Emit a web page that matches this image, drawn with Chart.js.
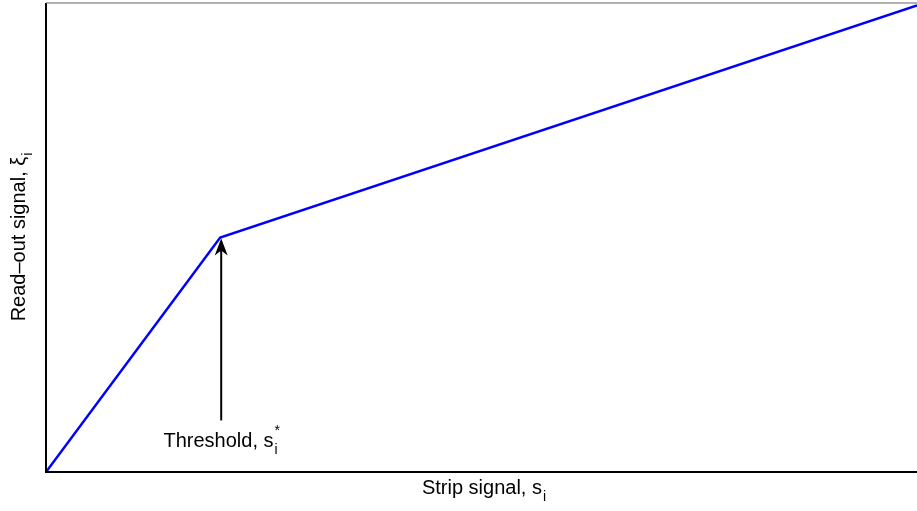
<!DOCTYPE html>
<html>
<head>
<meta charset="utf-8">
<script src="https://cdn.jsdelivr.net/npm/chart.js@4.4.1/dist/chart.umd.min.js"></script>
<style>
  html, body { margin: 0; padding: 0; background: #ffffff; }
  #wrap { width: 917px; height: 511px; position: relative; }
</style>
</head>
<body>
<div id="wrap"><canvas id="c" width="917" height="511"></canvas></div>
<script>
// Piecewise-linear response: strip signal -> read-out signal
const stripSignal = [0, 2, 10];
const readoutSignal = [0, 5, 9.95];

// Threshold marker (x of the knee) and where the arrow tail starts
const thresholdX = 2;
const thresholdY = 5;
const arrowTailY = 1.1;

const xRange = [0, 10];
const yRange = [0, 10];

const FONT = '"Liberation Sans", Arial, Helvetica, sans-serif';
const FS = 20;
const SUB = Math.round(FS * 0.7);

const points = stripSignal.map((x, i) => ({ x: x, y: readoutSignal[i] }));

// Draw a run of text pieces, some of them sub/superscripts, left to right
function measureRich(ctx, parts) {
  let w = 0;
  for (const p of parts) {
    if (p.stack) {
      ctx.font = `${SUB}px ${FONT}`;
      w += Math.max(ctx.measureText(p.sub).width, ctx.measureText(p.sup).width);
    } else {
      ctx.font = `${p.sub ? SUB : FS}px ${FONT}`;
      w += ctx.measureText(p.t).width;
    }
  }
  return w;
}
function drawRich(ctx, parts, cx, baseline) {
  const total = measureRich(ctx, parts);
  let x = cx - total / 2;
  ctx.textAlign = 'left';
  ctx.textBaseline = 'alphabetic';
  ctx.fillStyle = '#000';
  for (const p of parts) {
    if (p.stack) {
      ctx.font = `${SUB}px ${FONT}`;
      ctx.fillText(p.sub, x + 1, baseline + 7);
      ctx.fillText(p.sup, x + 1, baseline - 12);
      x += Math.max(ctx.measureText(p.sub).width, ctx.measureText(p.sup).width);
    } else if (p.sub) {
      ctx.font = `${SUB}px ${FONT}`;
      ctx.fillText(p.t, x + 1, baseline + 7);
      x += ctx.measureText(p.t).width;
    } else {
      ctx.font = `${FS}px ${FONT}`;
      ctx.fillText(p.t, x, baseline);
      x += ctx.measureText(p.t).width;
    }
  }
}

const decorations = {
  id: 'decorations',
  afterDatasetsDraw(chart) {
    const ctx = chart.ctx;
    const a = chart.chartArea;
    const xs = chart.scales.x, ys = chart.scales.y;
    ctx.save();

    // axes box: left and bottom solid, top thin
    ctx.strokeStyle = '#000';
    ctx.lineWidth = 2;
    ctx.beginPath();
    ctx.moveTo(a.left, a.top);
    ctx.lineTo(a.left, a.bottom);
    ctx.lineTo(a.right + 2, a.bottom);
    ctx.stroke();
    ctx.strokeStyle = '#666';
    ctx.lineWidth = 1.2;
    ctx.beginPath();
    ctx.moveTo(a.left, a.top);
    ctx.lineTo(a.right + 2, a.top);
    ctx.stroke();

    // arrow pointing at the knee
    const ax = xs.getPixelForValue(thresholdX) + 1;
    const ayTip = ys.getPixelForValue(thresholdY) + 1;
    const ayTail = ys.getPixelForValue(arrowTailY);
    ctx.strokeStyle = '#000';
    ctx.lineWidth = 2;
    ctx.beginPath();
    ctx.moveTo(ax, ayTail);
    ctx.lineTo(ax, ayTip + 10);
    ctx.stroke();
    ctx.fillStyle = '#000';
    ctx.beginPath();
    ctx.moveTo(ax, ayTip);
    ctx.lineTo(ax - 6.5, ayTip + 17);
    ctx.lineTo(ax, ayTip + 12);
    ctx.lineTo(ax + 6.5, ayTip + 17);
    ctx.closePath();
    ctx.fill();

    // threshold label
    drawRich(ctx, [{ t: 'Threshold, s' }, { stack: true, sub: 'i', sup: '*' }], ax, ayTail + 27);

    // x-axis title
    drawRich(ctx, [{ t: 'Strip signal, s' }, { t: 'i', sub: true }], (a.left + a.right) / 2 + 2, a.bottom + 22);

    // y-axis title (rotated)
    ctx.save();
    ctx.translate(25, (a.top + a.bottom) / 2);
    ctx.rotate(-Math.PI / 2);
    drawRich(ctx, [{ t: 'Read\u2013out signal, \u03BE' }, { t: 'i', sub: true }], 0, 0);
    ctx.restore();

    ctx.restore();
  }
};

new Chart(document.getElementById('c'), {
  type: 'line',
  data: {
    datasets: [{
      data: points,
      borderColor: '#0000ff',
      borderWidth: 2.5,
      pointRadius: 0,
      fill: false,
      tension: 0
    }]
  },
  options: {
    responsive: false,
    animation: false,
    devicePixelRatio: 1,
    layout: { padding: { left: 46, top: 3, right: 0, bottom: 39 } },
    plugins: { legend: { display: false }, tooltip: { enabled: false } },
    scales: {
      x: { type: 'linear', min: xRange[0], max: xRange[1], display: false },
      y: { type: 'linear', min: yRange[0], max: yRange[1], display: false }
    }
  },
  plugins: [decorations]
});
</script>
</body>
</html>
